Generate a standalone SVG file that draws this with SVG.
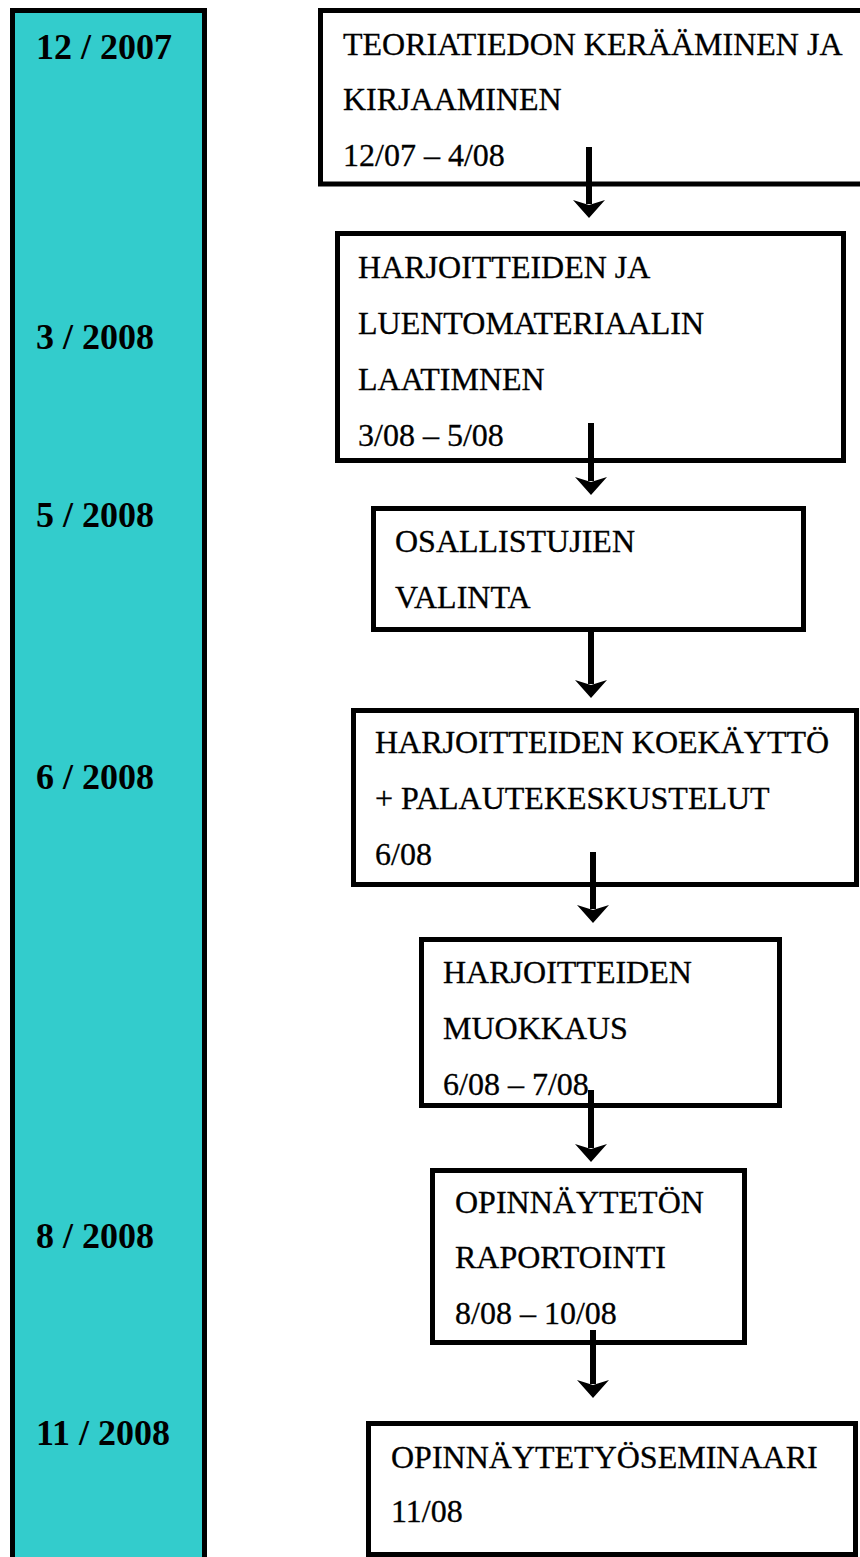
<svg xmlns="http://www.w3.org/2000/svg" width="860" height="1557" viewBox="0 0 860 1557">
<style>
.col{fill:#33CCCC;stroke:#000;stroke-width:5}
.box{fill:#fff;stroke:#000;stroke-width:5}
.t{font-family:"Liberation Serif","Times New Roman",serif;font-size:32px;fill:#000;stroke:#000;stroke-width:0.3}
.d{font-family:"Liberation Serif","Times New Roman",serif;font-size:36px;font-weight:bold;fill:#000}
.c{stroke:#000;stroke-width:6;fill:none}
</style>
<defs>
<marker id="ah" markerUnits="userSpaceOnUse" viewBox="-20 -20 40 40" markerWidth="40" markerHeight="40" refX="0" refY="0" orient="auto">
<path d="M-4,-16 L14,0 L-4,16 L1,0 Z" fill="#000"/>
</marker>
</defs>
<g id="timeline">
<rect class="col" x="12.5" y="10.5" width="192" height="1560"/>
<text class="d" x="36" y="59">12 / 2007</text>
<text class="d" x="36" y="349">3 / 2008</text>
<text class="d" x="36" y="527">5 / 2008</text>
<text class="d" x="36" y="789">6 / 2008</text>
<text class="d" x="36" y="1248">8 / 2008</text>
<text class="d" x="36" y="1445">11 / 2008</text>
</g>
<g id="n1">
<rect class="box" x="320.5" y="10.5" width="560" height="173.5"/>
<text class="t" x="343" y="55">TEORIATIEDON KERÄÄMINEN JA</text>
<text class="t" x="343" y="110">KIRJAAMINEN</text>
<text class="t" x="343" y="166">12/07 – 4/08</text>
</g>
<g id="n2">
<rect class="box" x="337.5" y="233.5" width="506" height="227"/>
<text class="t" x="358" y="278">HARJOITTEIDEN JA</text>
<text class="t" x="358" y="334">LUENTOMATERIAALIN</text>
<text class="t" x="358" y="390">LAATIMNEN</text>
<text class="t" x="358" y="446">3/08 – 5/08</text>
</g>
<g id="n3">
<rect class="box" x="373.5" y="508.5" width="430" height="121"/>
<text class="t" x="395" y="552">OSALLISTUJIEN</text>
<text class="t" x="395" y="608">VALINTA</text>
</g>
<g id="n4">
<rect class="box" x="353.5" y="710.5" width="503" height="174"/>
<text class="t" x="375" y="753">HARJOITTEIDEN KOEKÄYTTÖ</text>
<text class="t" x="375" y="809">+ PALAUTEKESKUSTELUT</text>
<text class="t" x="375" y="865">6/08</text>
</g>
<g id="n5">
<rect class="box" x="421.5" y="939.5" width="358" height="166"/>
<text class="t" x="443" y="983">HARJOITTEIDEN</text>
<text class="t" x="443" y="1039">MUOKKAUS</text>
<text class="t" x="443" y="1095">6/08 – 7/08</text>
</g>
<g id="n6">
<rect class="box" x="432.5" y="1170.5" width="312" height="172"/>
<text class="t" x="455" y="1213">OPINNÄYTETÖN</text>
<text class="t" x="455" y="1268">RAPORTOINTI</text>
<text class="t" x="455" y="1324">8/08 – 10/08</text>
</g>
<g id="n7">
<rect class="box" x="368.5" y="1423.5" width="487" height="131"/>
<text class="t" x="391" y="1468">OPINNÄYTETYÖSEMINAARI</text>
<text class="t" x="391" y="1522">11/08</text>
</g>
<g id="connectors">
<line class="c" x1="589" y1="147" x2="589" y2="204" marker-end="url(#ah)"/>
<line class="c" x1="591" y1="423" x2="591" y2="481" marker-end="url(#ah)"/>
<line class="c" x1="591" y1="632" x2="591" y2="684" marker-end="url(#ah)"/>
<line class="c" x1="593" y1="852" x2="593" y2="909" marker-end="url(#ah)"/>
<line class="c" x1="591" y1="1090" x2="591" y2="1148" marker-end="url(#ah)"/>
<line class="c" x1="593" y1="1330" x2="593" y2="1384" marker-end="url(#ah)"/>
</g>
</svg>
